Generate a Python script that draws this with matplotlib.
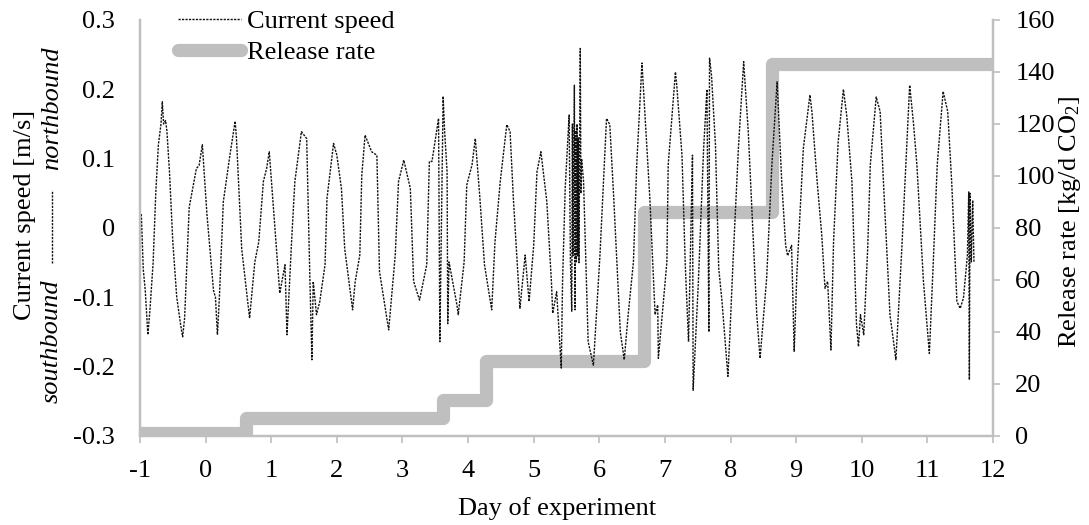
import matplotlib
matplotlib.use("Agg")
import matplotlib.pyplot as plt
from matplotlib.lines import Line2D

plt.rcParams['font.family'] = ['Liberation Serif', 'DejaVu Serif']
plt.rcParams['mathtext.fontset'] = 'custom'
plt.rcParams['mathtext.rm'] = 'Liberation Serif'
plt.rcParams['mathtext.it'] = 'Liberation Serif:italic'

# ---- Data -------------------------------------------------------------
day = [
    -0.98, -0.95, -0.92, -0.88, -0.85, -0.80, -0.76, -0.72, -0.68, -0.66, -0.64, -0.61, -0.59,
    -0.55, -0.50, -0.44, -0.38, -0.35, -0.32, -0.25, -0.14, -0.10, -0.05, 0.02, 0.12, 0.15,
    0.18, 0.21, 0.27, 0.37, 0.45, 0.47, 0.55, 0.63, 0.67, 0.70, 0.75, 0.81, 0.88, 0.93, 0.97,
    1.06, 1.13, 1.21, 1.24, 1.31, 1.36, 1.46, 1.54, 1.59, 1.62, 1.64, 1.69, 1.74, 1.82, 1.85,
    1.95, 2.00, 2.07, 2.12, 2.24, 2.28, 2.35, 2.38, 2.43, 2.53, 2.61, 2.65, 2.79, 2.89, 2.94,
    3.02, 3.12, 3.17, 3.26, 3.37, 3.41, 3.45, 3.55, 3.57, 3.62, 3.64, 3.68, 3.69, 3.71, 3.83,
    3.85, 3.94, 3.98, 4.06, 4.11, 4.18, 4.25, 4.36, 4.41, 4.49, 4.59, 4.64, 4.69, 4.79, 4.87,
    4.93, 5.00, 5.05, 5.11, 5.20, 5.27, 5.29, 5.35, 5.42, 5.44, 5.48, 5.54, 5.56, 5.58, 5.59,
    5.60, 5.62, 5.63, 5.64, 5.65, 5.66, 5.67, 5.68, 5.69, 5.71, 5.72, 5.73, 5.76, 5.83, 5.91,
    6.01, 6.11, 6.16, 6.22, 6.32, 6.38, 6.44, 6.52, 6.57, 6.65, 6.77, 6.85, 6.89, 6.90, 7.03,
    7.05, 7.16, 7.18, 7.26, 7.31, 7.36, 7.42, 7.43, 7.51, 7.59, 7.64, 7.67, 7.68, 7.71, 7.77,
    7.82, 7.87, 7.96, 7.99, 8.04, 8.12, 8.20, 8.22, 8.27, 8.40, 8.45, 8.48, 8.55, 8.63, 8.71,
    8.78, 8.84, 8.87, 8.93, 8.97, 9.01, 9.11, 9.21, 9.24, 9.32, 9.39, 9.44, 9.48, 9.53, 9.57,
    9.64, 9.72, 9.77, 9.85, 9.92, 9.95, 9.98, 10.03, 10.09, 10.13, 10.22, 10.28, 10.33, 10.43,
    10.52, 10.61, 10.73, 10.79, 10.84, 10.94, 11.03, 11.09, 11.15, 11.24, 11.31, 11.37, 11.45,
    11.50, 11.55, 11.61, 11.63, 11.64, 11.65, 11.67, 11.69, 11.71,
]
speed = [
    0.020, -0.060, -0.090, -0.154, -0.120, -0.050, 0.050, 0.120, 0.150, 0.182, 0.150, 0.155, 0.140,
    0.080, -0.020, -0.100, -0.140, -0.157, -0.130, 0.030, 0.086, 0.090, 0.120, 0.020, -0.090, -0.100,
    -0.154, -0.100, 0.038, 0.105, 0.154, 0.130, -0.030, -0.097, -0.130, -0.100, -0.049, -0.020, 0.067, 0.086, 0.110,
    -0.005, -0.094, -0.053, -0.154, -0.020, 0.067, 0.139, 0.129, -0.077, -0.190, -0.077, -0.125, -0.106, -0.053, 0.043,
    0.122, 0.105, 0.057, -0.030, -0.118, -0.077, -0.039, 0.076, 0.134, 0.110, 0.105, -0.063, -0.147, -0.039, 0.067,
    0.098, 0.057, -0.077, -0.104, -0.053, 0.096, 0.096, 0.158, -0.164, 0.190, 0.144, 0.081, -0.138, -0.049, -0.111,
    -0.125, -0.049, 0.062, 0.091, 0.129, 0.043, -0.053, -0.118, -0.020, 0.067, 0.149, 0.139, 0.043, -0.116, -0.039,
    -0.106, -0.025, 0.081, 0.110, 0.038, -0.077, -0.123, -0.092, -0.202, -0.077, 0.057, 0.163, -0.050, -0.120, 0.150,
    -0.040, 0.206, -0.118, 0.140, -0.050, 0.150, -0.040, 0.130, -0.050, 0.259, 0.050, 0.100, 0.067, -0.164, -0.198,
    -0.039, 0.158, 0.149, 0.043, -0.150, -0.190, -0.125, -0.049, 0.091, 0.238, 0.043, -0.125, -0.111, -0.188, -0.049,
    0.091, 0.225, 0.206, 0.105, -0.053, -0.164, 0.105, -0.234, -0.077, 0.115, 0.200, -0.150, 0.245, 0.220, 0.120,
    -0.058, -0.106, -0.214, -0.154, -0.044, 0.115, 0.240, 0.211, 0.139, -0.125, -0.188, -0.154, -0.073, 0.091, 0.211,
    0.067, -0.025, -0.040, -0.025, -0.178, -0.068, 0.115, 0.192, 0.168, 0.067, -0.010, -0.087, -0.077, -0.176, -0.020,
    0.124, 0.200, 0.163, 0.067, -0.140, -0.171, -0.125, -0.154, -0.030, 0.091, 0.189, 0.168, 0.067, -0.125,
    -0.190, -0.030, 0.206, 0.149, 0.091, -0.077, -0.181, -0.049, 0.091, 0.197, 0.168, 0.067, -0.106,
    -0.116, -0.101, -0.039, 0.052, -0.219, 0.050, -0.049, 0.040, -0.049,
]

release_day = [-1.0, 0.62, 3.62, 4.27, 6.68, 8.63, 12.0]
release_rate = [1.0, 7.0, 14.0, 29.0, 86.0, 143.0, 143.0]

grey = '#BFBFBF'
fs = 19

# ---- Figure -----------------------------------------------------------
fig = plt.figure(figsize=(10.89, 5.25), dpi=100)
ax = fig.add_axes([140/1089, 1-436/525, (993-140)/1089, (436-20)/525])
ax2 = ax.twinx()
ax.set_zorder(ax2.get_zorder() + 1)
ax.patch.set_visible(False)

ln_rel, = ax2.step(release_day, release_rate, where='post', color=grey, lw=9.5,
                   solid_joinstyle='round', solid_capstyle='butt')
ln_cur, = ax.plot(day, speed, color='#111111', lw=1.0, dashes=(1.6, 0.9))

ax.set_xlim(-1, 12)
ax.set_ylim(-0.3, 0.3)
ax2.set_ylim(0, 160)
ax.set_xticks(range(-1, 13))
ax.set_yticks([-0.3, -0.2, -0.1, 0, 0.1, 0.2, 0.3])
ax.set_yticklabels(['-0.3', '-0.2', '-0.1', '0', '0.1', '0.2', '0.3'])
ax.set_xticklabels([str(v) for v in range(-1, 13)])
ax2.set_yticks(range(0, 161, 20))

for a in (ax, ax2):
    a.spines['top'].set_visible(False)
    for s in ('left', 'right', 'bottom'):
        a.spines[s].set_color(grey)
        a.spines[s].set_linewidth(1.6)

ax.tick_params(axis='y', length=0, pad=18, labelsize=fs)
ax.tick_params(axis='x', length=5, width=1.2, color=grey, pad=12, labelsize=fs)
ax2.tick_params(axis='y', length=5, width=1.2, color=grey, pad=11, labelsize=fs)

fig.text(557/1089, 1-509/525, 'Day of experiment', ha='center', va='center', fontsize=fs)

# left axis labels
fig.text(25/1089, 1-215/525, 'Current speed [m/s]', rotation=90, ha='center', va='center', fontsize=fs)
fig.text(52/1089, 1-341/525, 'southbound', rotation=90, ha='center', va='center',
         fontsize=fs, style='italic')
fig.text(52/1089, 1-108/525, 'northbound', rotation=90, ha='center', va='center',
         fontsize=fs, style='italic')
fig.add_artist(Line2D([52/1089, 52/1089], [1-263/525, 1-190/525], transform=fig.transFigure,
                      color='#111111', lw=1.0, dashes=(1.6, 0.9)))

fig.text(1070/1089, 1-222/525, 'Release rate [kg/d CO$_2$]', rotation=90, ha='center',
         va='center', fontsize=fs)

leg_cur = Line2D([], [], color='#111111', lw=1.0, dashes=(1.6, 0.9))
leg_rel = Line2D([], [], color=grey, lw=9.5, solid_capstyle='round')
fig.legend([leg_cur, leg_rel], ['Current speed', 'Release rate'], loc='upper left',
           bbox_to_anchor=(178/1089, 1-10/525), frameon=False, fontsize=fs,
           handlelength=2.4, handletextpad=0.2, borderpad=0, borderaxespad=0,
           labelspacing=0.27)

fig.savefig('out.png', dpi=100)
